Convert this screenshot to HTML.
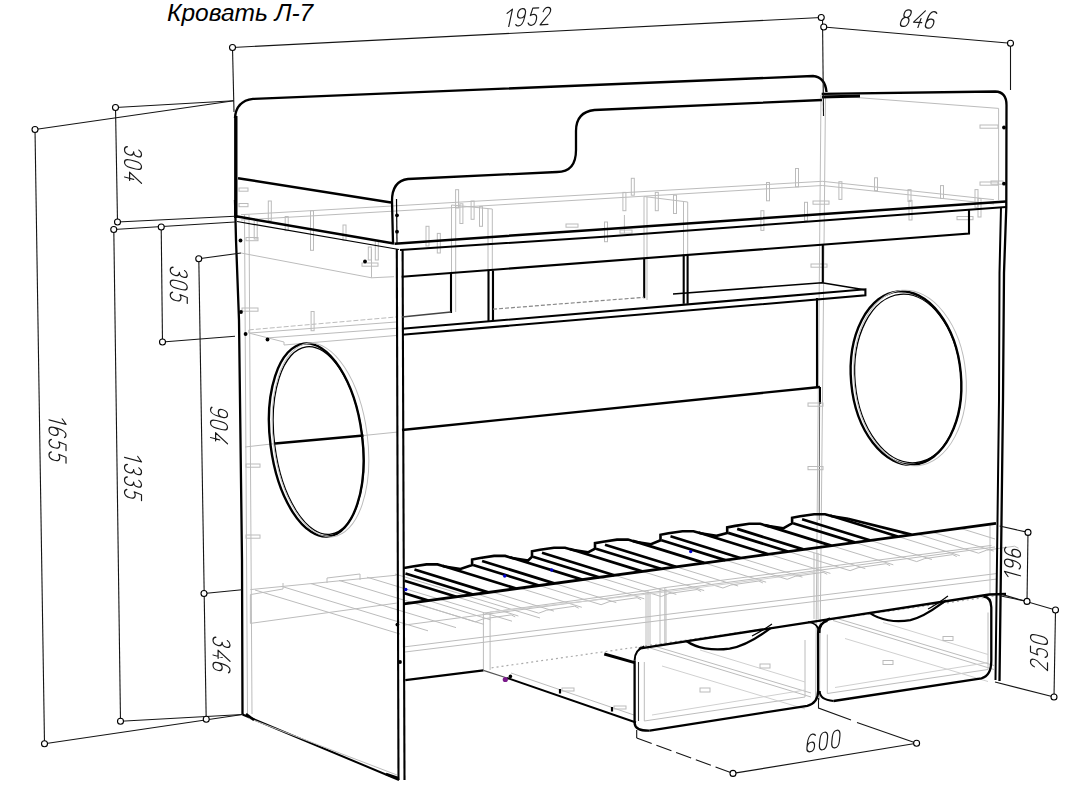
<!DOCTYPE html>
<html><head><meta charset="utf-8"><style>
html,body{margin:0;padding:0;background:#fff;width:1065px;height:800px;overflow:hidden}
svg{display:block}
text{font-family:"Liberation Sans",sans-serif}
</style></head><body>
<svg width="1065" height="800" viewBox="0 0 1065 800">
<path d="M241,214.7 L420,204.4 L822.3,181.3 L994,199.7" stroke="#bcbcbc" stroke-width="1" fill="none" />
<path d="M241,220 L420,209.6 L822.3,185.5 L994,204" stroke="#bcbcbc" stroke-width="1" fill="none" />
<path d="M824,95 L998.6,108.4 L998.6,200" stroke="#bcbcbc" stroke-width="1" fill="none" />
<path d="M821,95 L815.5,700" stroke="#bcbcbc" stroke-width="1" fill="none" />
<path d="M825.5,95 L819.5,700" stroke="#bcbcbc" stroke-width="1" fill="none" />
<path d="M820,387 L820,404" stroke="#000" stroke-width="2" fill="none" />
<path d="M819.6,404 L819.2,520" stroke="#666" stroke-width="1" fill="none" />
<path d="M244.5,215 L247.5,714" stroke="#bcbcbc" stroke-width="1" fill="none" />
<path d="M249,215 L252,714" stroke="#bcbcbc" stroke-width="1" fill="none" />
<path d="M241,253 L371.5,277.8 L394,276.7" stroke="#bcbcbc" stroke-width="1" fill="none" />
<path d="M371.5,249 L371.5,277.8" stroke="#bcbcbc" stroke-width="1" fill="none" />
<path d="M245,447 L275,443.6" stroke="#bcbcbc" stroke-width="1" fill="none" />
<path d="M363.5,435.5 L398,432" stroke="#bcbcbc" stroke-width="1" fill="none" />
<path d="M644,196.5 L644,258" stroke="#bcbcbc" stroke-width="1" fill="none" />
<path d="M647,196.5 L647,300" stroke="#bcbcbc" stroke-width="1" fill="none" />
<path d="M644,196.5 L687.7,202 L687.7,254" stroke="#bcbcbc" stroke-width="1" fill="none" />
<path d="M683.5,201.5 L683.5,254" stroke="#bcbcbc" stroke-width="1" fill="none" />
<path d="M248.8,329.9 L396,317" stroke="#bcbcbc" stroke-width="1" fill="none" stroke-dasharray="5 2"/>
<path d="M248.8,333.1 L396,322" stroke="#bcbcbc" stroke-width="1" fill="none" />
<path d="M268,337.9 L396,328.3" stroke="#bcbcbc" stroke-width="1" fill="none" />
<path d="M284,345 L396,335.5" stroke="#bcbcbc" stroke-width="1" fill="none" />
<path d="M248.8,330 L248.8,333 L284,342 L284,345" stroke="#bcbcbc" stroke-width="1" fill="none" />
<rect x="311.1" y="311.5" width="3" height="19.2" stroke="#bbb" stroke-width="1" fill="none"/>
<rect x="268.3" y="201" width="3" height="19.69999999999999" stroke="#bbb" stroke-width="1" fill="none"/>
<rect x="285.2" y="216.5" width="3" height="14.099999999999994" stroke="#bbb" stroke-width="1" fill="none"/>
<rect x="254.2" y="219" width="3" height="20" stroke="#bbb" stroke-width="1" fill="none"/>
<rect x="310.5" y="210.8" width="3" height="39.5" stroke="#bbb" stroke-width="1" fill="none"/>
<rect x="343.0" y="225" width="3" height="15.400000000000006" stroke="#bbb" stroke-width="1" fill="none"/>
<rect x="375.3" y="240.4" width="3" height="19.599999999999994" stroke="#bbb" stroke-width="1" fill="none"/>
<rect x="368.3" y="247" width="3" height="13" stroke="#bbb" stroke-width="1" fill="none"/>
<rect x="426.0" y="226.3" width="3" height="19.69999999999999" stroke="#bbb" stroke-width="1" fill="none"/>
<rect x="437.3" y="233.4" width="3" height="19.599999999999994" stroke="#bbb" stroke-width="1" fill="none"/>
<rect x="455.6" y="189.7" width="3" height="18.30000000000001" stroke="#bbb" stroke-width="1" fill="none"/>
<rect x="459.9" y="203.8" width="3" height="19.69999999999999" stroke="#bbb" stroke-width="1" fill="none"/>
<rect x="471.1" y="201" width="3" height="18.30000000000001" stroke="#bbb" stroke-width="1" fill="none"/>
<rect x="479.5" y="206.6" width="3" height="19.700000000000017" stroke="#bbb" stroke-width="1" fill="none"/>
<rect x="631.3" y="178.3" width="3" height="16.899999999999977" stroke="#bbb" stroke-width="1" fill="none"/>
<rect x="622.9" y="192.4" width="3" height="18.299999999999983" stroke="#bbb" stroke-width="1" fill="none"/>
<rect x="604.5" y="222" width="3" height="19.69999999999999" stroke="#bbb" stroke-width="1" fill="none"/>
<rect x="655.3" y="192.4" width="3" height="18.299999999999983" stroke="#bbb" stroke-width="1" fill="none"/>
<rect x="673.5" y="195.2" width="3" height="18.30000000000001" stroke="#bbb" stroke-width="1" fill="none"/>
<rect x="766.5" y="182.5" width="3" height="18.30000000000001" stroke="#bbb" stroke-width="1" fill="none"/>
<rect x="795.5" y="168.5" width="3" height="18.30000000000001" stroke="#bbb" stroke-width="1" fill="none"/>
<rect x="760.9" y="210.7" width="3" height="19.700000000000017" stroke="#bbb" stroke-width="1" fill="none"/>
<rect x="804.5" y="202.3" width="3" height="18.299999999999983" stroke="#bbb" stroke-width="1" fill="none"/>
<rect x="874.5" y="177.8" width="3" height="12.799999999999983" stroke="#bbb" stroke-width="1" fill="none"/>
<rect x="838.9" y="181.7" width="3" height="17.700000000000017" stroke="#bbb" stroke-width="1" fill="none"/>
<rect x="908.0" y="189.6" width="3" height="11.800000000000011" stroke="#bbb" stroke-width="1" fill="none"/>
<rect x="909.0" y="200.4" width="3" height="19.599999999999994" stroke="#bbb" stroke-width="1" fill="none"/>
<rect x="940.5" y="185.6" width="3" height="12.900000000000006" stroke="#bbb" stroke-width="1" fill="none"/>
<rect x="975.0" y="189.6" width="3" height="17.700000000000017" stroke="#bbb" stroke-width="1" fill="none"/>
<rect x="978.0" y="198.5" width="3" height="18.5" stroke="#bbb" stroke-width="1" fill="none"/>
<path d="M624.4,215 L624.4,233.2" stroke="#bcbcbc" stroke-width="1" fill="none" />
<path d="M451.5,205 L451.5,272" stroke="#bcbcbc" stroke-width="1" fill="none" />
<path d="M455.7,205 L455.7,312" stroke="#bcbcbc" stroke-width="1" fill="none" />
<path d="M451.5,205 L492.3,209" stroke="#bcbcbc" stroke-width="1" fill="none" />
<path d="M488,209 L488,270" stroke="#bcbcbc" stroke-width="1" fill="none" />
<path d="M492.3,209 L492.3,321" stroke="#bcbcbc" stroke-width="1" fill="none" />
<rect x="239" y="188" width="9" height="3.2" stroke="#bbb" stroke-width="1" fill="none"/>
<rect x="239" y="203.5" width="9" height="3.2" stroke="#bbb" stroke-width="1" fill="none"/>
<rect x="246" y="237.5" width="12" height="3.2" stroke="#bbb" stroke-width="1" fill="none"/>
<rect x="362" y="263" width="16" height="3.2" stroke="#bbb" stroke-width="1" fill="none"/>
<rect x="242" y="308" width="16" height="3.2" stroke="#bbb" stroke-width="1" fill="none"/>
<rect x="246" y="464" width="14" height="3.2" stroke="#bbb" stroke-width="1" fill="none"/>
<rect x="246" y="535" width="14" height="3.2" stroke="#bbb" stroke-width="1" fill="none"/>
<rect x="980" y="125" width="18" height="3.2" stroke="#bbb" stroke-width="1" fill="none"/>
<rect x="980" y="182" width="18" height="3.2" stroke="#bbb" stroke-width="1" fill="none"/>
<rect x="813" y="201" width="16" height="3.2" stroke="#bbb" stroke-width="1" fill="none"/>
<rect x="957" y="216.5" width="16" height="3.2" stroke="#bbb" stroke-width="1" fill="none"/>
<rect x="991" y="181" width="12" height="3.2" stroke="#bbb" stroke-width="1" fill="none"/>
<rect x="811" y="264" width="16" height="3.2" stroke="#bbb" stroke-width="1" fill="none"/>
<rect x="808" y="403" width="15" height="3.2" stroke="#bbb" stroke-width="1" fill="none"/>
<rect x="808" y="466.5" width="15" height="3.2" stroke="#bbb" stroke-width="1" fill="none"/>
<rect x="620" y="230" width="12" height="3.2" stroke="#bbb" stroke-width="1" fill="none"/>
<rect x="566" y="224" width="12" height="3.2" stroke="#bbb" stroke-width="1" fill="none"/>
<path d="M250.4,589.6 L396.6,575.2" stroke="#bcbcbc" stroke-width="1" fill="none" />
<path d="M250.4,594.6 L250.4,623.4 L396.6,603.1" stroke="#bcbcbc" stroke-width="1" fill="none" />
<path d="M250.4,594.6 L283,589 L283,583" stroke="#bcbcbc" stroke-width="1" fill="none" />
<path d="M327,583 L327,578 L360,574 L360,580" stroke="#bcbcbc" stroke-width="1" fill="none" />
<path d="M255,590 L400,634" stroke="#bcbcbc" stroke-width="1" fill="none" />
<path d="M283,586.8 L428,630.8" stroke="#bcbcbc" stroke-width="1" fill="none" />
<path d="M311,583.6 L456,627.6" stroke="#bcbcbc" stroke-width="1" fill="none" />
<path d="M339,580.4 L484,624.4" stroke="#bcbcbc" stroke-width="1" fill="none" />
<path d="M367,577.2 L512,621.2" stroke="#bcbcbc" stroke-width="1" fill="none" />
<path d="M395,574 L540,618" stroke="#bcbcbc" stroke-width="1" fill="none" />
<path d="M413.2,602.6 L475.2,621.9" stroke="#bcbcbc" stroke-width="1" fill="none" />
<path d="M428.4,600.6 L490.4,619.8" stroke="#bcbcbc" stroke-width="1" fill="none" />
<path d="M456.4,596.8 L518.4,616" stroke="#bcbcbc" stroke-width="1" fill="none" />
<path d="M475.2,621.9 L483.2,618.9 L511.2,614.9 L515.2,616.9" stroke="#bcbcbc" stroke-width="1" fill="none" />
<path d="M476.7,594 L538.7,613.2" stroke="#bcbcbc" stroke-width="1" fill="none" />
<path d="M491.9,591.9 L553.9,611.1" stroke="#bcbcbc" stroke-width="1" fill="none" />
<path d="M519.8,588.1 L581.8,607.3" stroke="#bcbcbc" stroke-width="1" fill="none" />
<path d="M538.7,613.2 L546.7,610.2 L574.7,606.2 L578.7,608.2" stroke="#bcbcbc" stroke-width="1" fill="none" />
<path d="M539.1,585.5 L601.1,604.7" stroke="#bcbcbc" stroke-width="1" fill="none" />
<path d="M554.3,583.4 L616.3,602.6" stroke="#bcbcbc" stroke-width="1" fill="none" />
<path d="M582.3,579.6 L644.3,598.8" stroke="#bcbcbc" stroke-width="1" fill="none" />
<path d="M601.1,604.7 L609.1,601.7 L637.1,597.7 L641.1,599.7" stroke="#bcbcbc" stroke-width="1" fill="none" />
<path d="M599.1,577.3 L661.1,596.5" stroke="#bcbcbc" stroke-width="1" fill="none" />
<path d="M614.3,575.2 L676.3,594.4" stroke="#bcbcbc" stroke-width="1" fill="none" />
<path d="M642.2,571.4 L704.2,590.6" stroke="#bcbcbc" stroke-width="1" fill="none" />
<path d="M661.1,596.5 L669.1,593.5 L697.1,589.5 L701.1,591.5" stroke="#bcbcbc" stroke-width="1" fill="none" />
<path d="M660.9,568.8 L722.9,588" stroke="#bcbcbc" stroke-width="1" fill="none" />
<path d="M676.1,566.8 L738.1,586" stroke="#bcbcbc" stroke-width="1" fill="none" />
<path d="M704.1,562.9 L766.1,582.2" stroke="#bcbcbc" stroke-width="1" fill="none" />
<path d="M722.9,588 L730.9,585 L758.9,581 L762.9,583" stroke="#bcbcbc" stroke-width="1" fill="none" />
<path d="M725.2,560.1 L787.2,579.3" stroke="#bcbcbc" stroke-width="1" fill="none" />
<path d="M740.4,558 L802.4,577.2" stroke="#bcbcbc" stroke-width="1" fill="none" />
<path d="M768.4,554.2 L830.4,573.4" stroke="#bcbcbc" stroke-width="1" fill="none" />
<path d="M787.2,579.3 L795.2,576.3 L823.2,572.3 L827.2,574.3" stroke="#bcbcbc" stroke-width="1" fill="none" />
<path d="M788.1,551.5 L850.1,570.7" stroke="#bcbcbc" stroke-width="1" fill="none" />
<path d="M803.3,549.4 L865.3,568.6" stroke="#bcbcbc" stroke-width="1" fill="none" />
<path d="M831.3,545.6 L893.3,564.8" stroke="#bcbcbc" stroke-width="1" fill="none" />
<path d="M850.1,570.7 L858.1,567.7 L886.1,563.7 L890.1,565.7" stroke="#bcbcbc" stroke-width="1" fill="none" />
<path d="M854.7,542.4 L916.7,561.6" stroke="#bcbcbc" stroke-width="1" fill="none" />
<path d="M869.9,540.3 L931.9,559.5" stroke="#bcbcbc" stroke-width="1" fill="none" />
<path d="M897.8,536.5 L959.8,555.7" stroke="#bcbcbc" stroke-width="1" fill="none" />
<path d="M916.7,561.6 L924.7,558.6 L952.7,554.6 L956.7,556.6" stroke="#bcbcbc" stroke-width="1" fill="none" />
<path d="M916.5,533.9 L978.5,553.2" stroke="#bcbcbc" stroke-width="1" fill="none" />
<path d="M931.7,531.9 L993.7,551.1" stroke="#bcbcbc" stroke-width="1" fill="none" />
<path d="M959.7,528.1 L995,539" stroke="#bcbcbc" stroke-width="1" fill="none" />
<path d="M978.5,553.2 L986.5,550.2 L1014.5,546.2 L1018.5,548.2" stroke="#bcbcbc" stroke-width="1" fill="none" />
<path d="M405,625 L995,547" stroke="#bcbcbc" stroke-width="1" fill="none" />
<path d="M405,646.8 L997,573.5" stroke="#bcbcbc" stroke-width="1" fill="none" />
<path d="M405,652 L997,579" stroke="#bcbcbc" stroke-width="1" fill="none" />
<path d="M483.4,612.5 L483.4,670" stroke="#bcbcbc" stroke-width="1" fill="none" />
<path d="M490.1,612.5 L490.1,670" stroke="#bcbcbc" stroke-width="1" fill="none" />
<path d="M646,592.6 L646,645" stroke="#bcbcbc" stroke-width="1" fill="none" />
<path d="M650,592.6 L650,645" stroke="#bcbcbc" stroke-width="1" fill="none" />
<path d="M660,588.7 L660,645" stroke="#bcbcbc" stroke-width="1" fill="none" />
<path d="M666,588.7 L666,645" stroke="#bcbcbc" stroke-width="1" fill="none" />
<path d="M814,553 L814,619" stroke="#bcbcbc" stroke-width="1" fill="none" />
<path d="M818,553 L818,619" stroke="#bcbcbc" stroke-width="1" fill="none" />
<path d="M990,525 L990,595" stroke="#bcbcbc" stroke-width="1" fill="none" />
<path d="M644.3,662 L644.3,721 L805,697 L805,640" stroke="#bcbcbc" stroke-width="1" fill="none" />
<path d="M650,648 L811,697" stroke="#bcbcbc" stroke-width="1" fill="none" />
<path d="M654,646 L811,693" stroke="#bcbcbc" stroke-width="1" fill="none" />
<path d="M662,666 L805,709" stroke="#d0d0d0" stroke-width="1" fill="none" />
<path d="M700,650 L805,682" stroke="#d0d0d0" stroke-width="1" fill="none" />
<path d="M652,715 L805,690" stroke="#d0d0d0" stroke-width="1" fill="none" />
<rect x="700" y="688" width="10" height="4" stroke="#bbb" stroke-width="1" fill="none"/>
<rect x="760" y="664" width="10" height="4" stroke="#bbb" stroke-width="1" fill="none"/>
<path d="M827.3,634.5 L827.3,693.5 L988,669.5 L988,612.5" stroke="#bcbcbc" stroke-width="1" fill="none" />
<path d="M833,620.5 L994,669.5" stroke="#bcbcbc" stroke-width="1" fill="none" />
<path d="M837,618.5 L994,665.5" stroke="#bcbcbc" stroke-width="1" fill="none" />
<path d="M845,638.5 L988,681.5" stroke="#d0d0d0" stroke-width="1" fill="none" />
<path d="M883,622.5 L988,654.5" stroke="#d0d0d0" stroke-width="1" fill="none" />
<path d="M835,687.5 L988,662.5" stroke="#d0d0d0" stroke-width="1" fill="none" />
<rect x="883" y="660.5" width="10" height="4" stroke="#bbb" stroke-width="1" fill="none"/>
<rect x="943" y="636.5" width="10" height="4" stroke="#bbb" stroke-width="1" fill="none"/>
<path d="M484.5,613 L648,590.4 L664.8,587.6 L817,568 L991.5,545.4" stroke="#bcbcbc" stroke-width="1" fill="none" />
<path d="M490,612 L648,594 L664.8,592 L817,572" stroke="#d0d0d0" stroke-width="1" fill="none" />
<path d="M648,590.4 L648,650" stroke="#bcbcbc" stroke-width="1" fill="none" />
<path d="M664.8,587.6 L664.8,646" stroke="#bcbcbc" stroke-width="1" fill="none" />
<path d="M235,118 Q236,101 253,98.9 L813,76 Q825,77 826.5,92" stroke="#000" stroke-width="2.4" fill="none" />
<path d="M235.8,116 L235.8,218" stroke="#000" stroke-width="3.4" fill="none" />
<path d="M822,100 L594.5,110 Q576,112 576,131 L576,150 Q576,172 557,172 L408,179 Q392,181 392,201 L393,243" stroke="#000" stroke-width="2.3" fill="none" />
<path d="M396.5,199 L397,243" stroke="#000" stroke-width="1.2" fill="none" />
<path d="M238,178.2 L391,202.4" stroke="#000" stroke-width="2.5" fill="none" />
<path d="M236,216.3 L394,243.5" stroke="#000" stroke-width="2.5" fill="none" />
<path d="M237,221.5 L399,249.5" stroke="#000" stroke-width="1.2" fill="none" />
<path d="M235,200 L236,240 L239,320 L242,560 L242.5,714.5" stroke="#000" stroke-width="2.3" fill="none" />
<path d="M242.5,714.5 L399,780" stroke="#000" stroke-width="2" fill="none" />
<path d="M248,718 L397,775" stroke="#bcbcbc" stroke-width="1" fill="none" />
<path d="M246,714 L254,720" stroke="#000" stroke-width="2.5" fill="none" />
<path d="M386,774 L398,778" stroke="#000" stroke-width="2.5" fill="none" />
<path d="M396.8,249 L398.5,780" stroke="#000" stroke-width="2.1" fill="none" />
<path d="M402.6,249 L404.5,780" stroke="#000" stroke-width="2.1" fill="none" />
<path d="M394.5,243.7 L600,229.5 L1006,201.5" stroke="#000" stroke-width="2.5" fill="none" />
<path d="M400,250 L600,237 L1006,207" stroke="#000" stroke-width="2" fill="none" />
<path d="M401.7,276.7 L969,233.5 L969,210" stroke="#000" stroke-width="2.1" fill="none" />
<path d="M451,272.6 L451,313" stroke="#000" stroke-width="2.1" fill="none" />
<path d="M488.5,270.5 L488.5,321" stroke="#000" stroke-width="2.1" fill="none" />
<path d="M493,270.5 L493,321" stroke="#000" stroke-width="2.1" fill="none" />
<path d="M644.2,258.7 L644.2,298.2" stroke="#000" stroke-width="2.1" fill="none" />
<path d="M683.7,254.5 L683.7,303.8" stroke="#000" stroke-width="2.1" fill="none" />
<path d="M687.6,254.5 L687.6,303.8" stroke="#000" stroke-width="2.1" fill="none" />
<path d="M822.8,244.6 L822.8,282.7" stroke="#000" stroke-width="2.1" fill="none" />
<path d="M402,328.7 L865.4,289.3 L865.4,295.4 L402,334.8" stroke="#000" stroke-width="2.1" fill="none" />
<path d="M673,294 L822,282.7 L864.5,289.7" stroke="#000" stroke-width="1.6" fill="none" />
<path d="M401.8,317 L451,312" stroke="#444" stroke-width="1.4" fill="none" />
<path d="M493,309.2 L644,297.3" stroke="#888" stroke-width="1.2" fill="none" stroke-dasharray="4 2"/>
<path d="M275,443.6 L363.5,435.5" stroke="#000" stroke-width="2.5" fill="none" />
<path d="M402,430 L820,387" stroke="#000" stroke-width="2.3" fill="none" />
<path d="M817,298 L817,387" stroke="#000" stroke-width="2.1" fill="none" />
<path d="M821.7,93.8 L995.2,91.5 Q1006.5,92 1006.5,105 L1006.3,207 L1004,273 L1003,400 L999.5,681" stroke="#000" stroke-width="2.3" fill="none" />
<path d="M1001,207 L999.5,273 L999,400 L995.5,680" stroke="#000" stroke-width="2" fill="none" />
<path d="M822,97 L860,96" stroke="#000" stroke-width="3" fill="none" />
<ellipse cx="316.25" cy="440" rx="46" ry="97.2" transform="rotate(-7.4 316.25 440)" stroke="#000" stroke-width="2.4" fill="none"/>
<ellipse cx="318.5" cy="440.5" rx="44" ry="94.5" transform="rotate(-7.4 318.5 440.5)" stroke="#000" stroke-width="1.3" fill="none"/>
<ellipse cx="320.5" cy="440" rx="47" ry="97.5" transform="rotate(-7.4 320.5 440)" stroke="#bcbcbc" stroke-width="1" fill="none"/>
<ellipse cx="906" cy="378" rx="55" ry="87" transform="rotate(-5.2 906 378)" stroke="#000" stroke-width="2.4" fill="none"/>
<ellipse cx="908" cy="378.5" rx="53" ry="84.5" transform="rotate(-5.2 908 378.5)" stroke="#000" stroke-width="1.3" fill="none"/>
<ellipse cx="910" cy="378" rx="56" ry="88" transform="rotate(-5.2 910 378)" stroke="#bcbcbc" stroke-width="1" fill="none"/>
<path d="M404,603.9 L996,523.3" stroke="#000" stroke-width="2.8" fill="none" />
<path d="M405.3,680.1 L483.4,670.4" stroke="#000" stroke-width="2.3" fill="none" />
<path d="M483.4,670.4 L507,678" stroke="#555" stroke-width="1.2" fill="none" />
<path d="M507,678 L636,722.5" stroke="#000" stroke-width="1.9" fill="none" />
<path d="M511,673 L634,715" stroke="#bcbcbc" stroke-width="1" fill="none" />
<path d="M560,689 L560,693.5" stroke="#000" stroke-width="2.2" fill="none" />
<path d="M612,707 L612,711.5" stroke="#000" stroke-width="2.2" fill="none" />
<rect x="562" y="688" width="12" height="3" stroke="#bbb" stroke-width="1" fill="none"/>
<rect x="614" y="706" width="12" height="3" stroke="#bbb" stroke-width="1" fill="none"/>
<path d="M491.6,667.8 L995,596" stroke="#aaa" stroke-width="1.2" fill="none" stroke-dasharray="2 3"/>
<path d="M604.3,654 L634.6,662.6" stroke="#000" stroke-width="3" fill="none" />
<path d="M638.9,648.6 L989.3,594.5 L1006,594" stroke="#000" stroke-width="2.3" fill="none" />
<circle cx="510.4" cy="676.4" r="1.8" fill="#000"/>
<circle cx="240.5" cy="240.5" r="1.9" fill="#000"/>
<circle cx="365" cy="261.5" r="1.9" fill="#000"/>
<circle cx="241" cy="312" r="1.9" fill="#000"/>
<circle cx="397" cy="215.3" r="1.9" fill="#000"/>
<circle cx="397" cy="231.7" r="1.9" fill="#000"/>
<circle cx="1004" cy="127.5" r="1.9" fill="#000"/>
<circle cx="1004" cy="183.7" r="1.9" fill="#000"/>
<circle cx="245.6" cy="334" r="1.9" fill="#000"/>
<circle cx="267.5" cy="339.5" r="1.9" fill="#000"/>
<circle cx="397.4" cy="624.6" r="1.9" fill="#000"/>
<circle cx="400" cy="662" r="1.9" fill="#000"/>
<path d="M405.5,573.5 L473.1,594.5" stroke="#000" stroke-width="2.7" fill="none" />
<path d="M414.5,569.5 L488.3,592.4" stroke="#000" stroke-width="2.7" fill="none" />
<path d="M442.5,565.7 L516.3,588.6" stroke="#000" stroke-width="2.7" fill="none" />
<path d="M473.1,565 L539.1,585.5" stroke="#000" stroke-width="2.7" fill="none" />
<path d="M482.1,561 L554.3,583.4" stroke="#000" stroke-width="2.7" fill="none" />
<path d="M510.1,557.2 L582.3,579.6" stroke="#000" stroke-width="2.7" fill="none" />
<path d="M533,556.8 L599.1,577.3" stroke="#000" stroke-width="2.7" fill="none" />
<path d="M542,552.8 L614.3,575.2" stroke="#000" stroke-width="2.7" fill="none" />
<path d="M570,549 L642.2,571.4" stroke="#000" stroke-width="2.7" fill="none" />
<path d="M596,548.7 L660.9,568.8" stroke="#000" stroke-width="2.7" fill="none" />
<path d="M605,544.7 L676.1,566.8" stroke="#000" stroke-width="2.7" fill="none" />
<path d="M633,540.9 L704.1,562.9" stroke="#000" stroke-width="2.7" fill="none" />
<path d="M661.5,540.3 L725.2,560.1" stroke="#000" stroke-width="2.7" fill="none" />
<path d="M670.5,536.3 L740.4,558" stroke="#000" stroke-width="2.7" fill="none" />
<path d="M698.5,532.5 L768.4,554.2" stroke="#000" stroke-width="2.7" fill="none" />
<path d="M728.2,532.9 L788.1,551.5" stroke="#000" stroke-width="2.7" fill="none" />
<path d="M737.2,528.9 L803.3,549.4" stroke="#000" stroke-width="2.7" fill="none" />
<path d="M765.2,525.1 L831.3,545.6" stroke="#000" stroke-width="2.7" fill="none" />
<path d="M793.1,523.3 L854.7,542.4" stroke="#000" stroke-width="2.7" fill="none" />
<path d="M802.1,519.3 L869.9,540.3" stroke="#000" stroke-width="2.7" fill="none" />
<path d="M830.1,515.5 L897.8,536.5" stroke="#000" stroke-width="2.7" fill="none" />
<path d="M404,568 L412.5,566.5 L426.5,564.4 L437.5,564.4 L444.5,566.5 L460.5,569 L472.1,565 L472.1,559.5 L480.1,558 L494.1,555.9 L505.1,555.9 L512.1,558 L528.1,560.5 L532,556.8 L532,551.3 L540,549.8 L554,547.7 L565,547.7 L572,549.8 L588,552.3 L595,548.7 L595,543.2 L603,541.7 L617,539.6 L628,539.6 L635,541.7 L651,544.2 L660.5,540.3 L660.5,534.8 L668.5,533.3 L682.5,531.2 L693.5,531.2 L700.5,533.3 L716.5,535.8 L727.2,532.9 L727.2,527.4 L735.2,525.9 L749.2,523.8 L760.2,523.8 L767.2,525.9 L783.2,528.4 L792.1,523.3 L792.1,517.8 L800.1,516.3 L814.1,514.2 L825.1,514.2 L832.1,516.3 L848.1,518.8" stroke="#000" stroke-width="2.6" fill="none" />
<path d="M404.5,593.2 L428.4,600.6" stroke="#000" stroke-width="2.7" fill="none" />
<path d="M404.5,580.7 L456.4,596.8" stroke="#000" stroke-width="2.7" fill="none" />
<path d="M848,518.8 L911.4,534.6" stroke="#000" stroke-width="2.7" fill="none" />
<circle cx="405.8" cy="589.5" r="1.7" fill="#0000d0"/>
<circle cx="504.7" cy="576" r="1.7" fill="#0000d0"/>
<circle cx="551.7" cy="570" r="1.7" fill="#0000d0"/>
<circle cx="690.7" cy="551.6" r="1.7" fill="#0000d0"/>
<circle cx="505.3" cy="679.5" r="2.6" fill="#7a1a8a"/>
<path d="M649.7,730.7 L807.3,705.8 Q818.1,703 818.1,690.7 L818.1,632.4 Q818.1,624 830,618.4" stroke="#000" stroke-width="2.3" fill="none" />
<path d="M634.6,660.5 L634.6,723.1 Q635,731 649.7,730.7" stroke="#000" stroke-width="2.3" fill="none" />
<path d="M638.5,662 L638.5,721" stroke="#333" stroke-width="1.1" fill="none" />
<path d="M634.6,660.5 Q634.6,650 644.3,646.4" stroke="#000" stroke-width="2" fill="none" />
<path d="M686.4,641 C696,648 712,651 729.6,648.6 C745,646 760,636 770.6,628.1" stroke="#000" stroke-width="2.2" fill="none" />
<path d="M752,636 C760,632 765,629 772,624" stroke="#000" stroke-width="1.2" fill="none" />
<path d="M818.1,632.4 Q819.7,624 808,622" stroke="#000" stroke-width="1.6" fill="none" />
<path d="M833.5,701 L981.4,678.3 Q991.3,676 991.3,660.6 L991.3,607.3 Q991,597 983.4,596.5" stroke="#000" stroke-width="2.3" fill="none" />
<path d="M833.5,701 Q819.7,700 819.7,691.1" stroke="#000" stroke-width="2" fill="none" />
<path d="M819.7,633 Q819.7,622 827.6,621.1" stroke="#000" stroke-width="1.6" fill="none" />
<path d="M870,613.2 C880,620 895,623 910.4,620.1 C925,617 938,606 946,600.4" stroke="#000" stroke-width="2.2" fill="none" />
<path d="M928,609 C936,605 941,601 948,596" stroke="#000" stroke-width="1.2" fill="none" />
<path d="M232.5,47.5 L821.2,17.5" stroke="#151515" stroke-width="1.1" fill="none" />
<path d="M232.5,47.5 L234,112" stroke="#151515" stroke-width="1.1" fill="none" />
<path d="M823.8,27 L1010.5,43.2" stroke="#151515" stroke-width="1.1" fill="none" />
<path d="M822.5,17.5 L823.5,116" stroke="#151515" stroke-width="1.1" fill="none" />
<path d="M1010.5,43.2 L1010.5,90" stroke="#151515" stroke-width="1.1" fill="none" />
<path d="M35,129.5 L44.5,743.8" stroke="#151515" stroke-width="1.1" fill="none" />
<path d="M35,129.5 L233.8,100.8" stroke="#151515" stroke-width="1.1" fill="none" />
<path d="M115.5,107.5 L233.8,100.8" stroke="#151515" stroke-width="1.1" fill="none" />
<path d="M115.5,107.5 L117.5,222" stroke="#151515" stroke-width="1.1" fill="none" />
<path d="M117.5,222 L235,216.2" stroke="#151515" stroke-width="1.1" fill="none" />
<path d="M113.8,229.5 L235,222" stroke="#151515" stroke-width="1.1" fill="none" />
<path d="M113.8,229.5 L120.5,721.2" stroke="#151515" stroke-width="1.1" fill="none" />
<path d="M161.2,227 L162.5,342" stroke="#151515" stroke-width="1.1" fill="none" />
<path d="M162.5,342 L235,336.2" stroke="#151515" stroke-width="1.1" fill="none" />
<path d="M198.8,258.8 L241,253" stroke="#151515" stroke-width="1.1" fill="none" />
<path d="M198.8,258.8 L206.2,719.2" stroke="#151515" stroke-width="1.1" fill="none" />
<path d="M204,593.5 L242,589.7" stroke="#151515" stroke-width="1.1" fill="none" />
<path d="M44.5,743.8 L242.5,714.5" stroke="#151515" stroke-width="1.1" fill="none" />
<path d="M120.5,721.2 L242.5,714.5" stroke="#151515" stroke-width="1.1" fill="none" />
<path d="M1028,532.4 L1027,601.4" stroke="#151515" stroke-width="1.1" fill="none" />
<path d="M999.6,526 L1028,532.4" stroke="#151515" stroke-width="1.1" fill="none" />
<path d="M999.6,595.7 L1027,601.4" stroke="#151515" stroke-width="1.1" fill="none" />
<path d="M1055.5,610 L1054,697" stroke="#151515" stroke-width="1.1" fill="none" />
<path d="M1001.7,594.4 L1055.5,610" stroke="#151515" stroke-width="1.1" fill="none" />
<path d="M995,682 L1054,697" stroke="#151515" stroke-width="1.1" fill="none" />
<path d="M733,773.4 L916.6,743.3" stroke="#151515" stroke-width="1.1" fill="none" />
<path d="M636.7,730 L636.7,738" stroke="#151515" stroke-width="1.1" fill="none" />
<path d="M636.7,738 L733,773.4" stroke="#151515" stroke-width="1.1" fill="none" stroke-dasharray="16 5"/>
<path d="M818.5,698 L818.5,708 L851,720" stroke="#151515" stroke-width="1.1" fill="none" />
<path d="M857,722.5 L916.6,743.3" stroke="#151515" stroke-width="1.1" fill="none" />
<circle cx="232.5" cy="47.5" r="3.0" stroke="#000" stroke-width="1.1" fill="#fff"/>
<circle cx="821.25" cy="17.5" r="3.0" stroke="#000" stroke-width="1.1" fill="#fff"/>
<circle cx="823.75" cy="27" r="3.0" stroke="#000" stroke-width="1.1" fill="#fff"/>
<circle cx="1010.5" cy="43.25" r="3.0" stroke="#000" stroke-width="1.1" fill="#fff"/>
<circle cx="35" cy="129.5" r="3.0" stroke="#000" stroke-width="1.1" fill="#fff"/>
<circle cx="115.5" cy="107.5" r="3.0" stroke="#000" stroke-width="1.1" fill="#fff"/>
<circle cx="117.5" cy="222" r="3.0" stroke="#000" stroke-width="1.1" fill="#fff"/>
<circle cx="113.75" cy="229.5" r="3.0" stroke="#000" stroke-width="1.1" fill="#fff"/>
<circle cx="161.25" cy="227" r="3.0" stroke="#000" stroke-width="1.1" fill="#fff"/>
<circle cx="162.5" cy="342" r="3.0" stroke="#000" stroke-width="1.1" fill="#fff"/>
<circle cx="198.75" cy="258.75" r="3.0" stroke="#000" stroke-width="1.1" fill="#fff"/>
<circle cx="204" cy="593.5" r="3.0" stroke="#000" stroke-width="1.1" fill="#fff"/>
<circle cx="44.5" cy="743.75" r="3.0" stroke="#000" stroke-width="1.1" fill="#fff"/>
<circle cx="120.5" cy="721.25" r="3.0" stroke="#000" stroke-width="1.1" fill="#fff"/>
<circle cx="206.25" cy="719.25" r="3.0" stroke="#000" stroke-width="1.1" fill="#fff"/>
<circle cx="1028" cy="532.4" r="3.0" stroke="#000" stroke-width="1.1" fill="#fff"/>
<circle cx="1027" cy="601.4" r="3.0" stroke="#000" stroke-width="1.1" fill="#fff"/>
<circle cx="1055.5" cy="610" r="3.0" stroke="#000" stroke-width="1.1" fill="#fff"/>
<circle cx="1054" cy="697" r="3.0" stroke="#000" stroke-width="1.1" fill="#fff"/>
<circle cx="733" cy="773.4" r="3.0" stroke="#000" stroke-width="1.1" fill="#fff"/>
<circle cx="916.6" cy="743.3" r="3.0" stroke="#000" stroke-width="1.1" fill="#fff"/>
<text x="167" y="21" font-size="24.5" font-style="italic" fill="#000">Кровать Л-7</text>
<g transform="translate(527,17) rotate(-3) scale(1.700) skewX(-15)" stroke="#1a1a1a" stroke-width="0.706" fill="none" stroke-linecap="round" stroke-linejoin="round"><path transform="translate(-13.27,-5)" d="M1,2.2 L3.6,0 L3.6,10"/><path transform="translate(-5.92,-5)" d="M0.2,9.1 C0.7,9.7 1.4,10 2.1,10 C3.7,10 4.5,8 4.5,5 L4.5,2.8 C4.5,1.1 3.6,0 2.25,0 C0.9,0 0,1.1 0,2.7 C0,4.3 0.9,5.4 2.25,5.4 C3.6,5.4 4.5,4.3 4.5,2.7"/><path transform="translate(1.43,-5)" d="M4.4,0 L0.9,0 L0.4,4.3 C0.9,3.9 1.6,3.7 2.3,3.7 C3.7,3.7 4.5,4.9 4.5,6.8 C4.5,8.8 3.6,10 2.2,10 C1.2,10 0.4,9.4 0,8.6"/><path transform="translate(8.77,-5)" d="M0.2,2.3 C0.5,0.8 1.3,0 2.4,0 C3.7,0 4.5,1 4.5,2.4 C4.5,3.7 3.8,4.7 2.8,5.7 L0,10 L4.6,10"/></g>
<g transform="translate(918.5,19) rotate(4) scale(1.700) skewX(-15)" stroke="#1a1a1a" stroke-width="0.706" fill="none" stroke-linecap="round" stroke-linejoin="round"><path transform="translate(-9.60,-5)" d="M2.25,4.6 C1,4.6 0.3,3.7 0.3,2.3 C0.3,0.9 1,0 2.25,0 C3.5,0 4.2,0.9 4.2,2.3 C4.2,3.7 3.5,4.6 2.25,4.6 C0.9,4.6 0,5.7 0,7.3 C0,8.9 0.9,10 2.25,10 C3.6,10 4.5,8.9 4.5,7.3 C4.5,5.7 3.6,4.6 2.25,4.6 Z"/><path transform="translate(-2.25,-5)" d="M4.6,0 L0,7 L4.8,7 M3.6,4.6 L3.6,10"/><path transform="translate(5.10,-5)" d="M4.3,0.9 C3.8,0.3 3.1,0 2.4,0 C0.8,0 0,2 0,5 L0,7.2 C0,8.9 0.9,10 2.25,10 C3.6,10 4.5,8.9 4.5,7.3 C4.5,5.7 3.6,4.6 2.25,4.6 C0.9,4.6 0,5.7 0,7.3"/></g>
<g transform="translate(133,164.5) rotate(90) scale(1.700) skewX(-15)" stroke="#1a1a1a" stroke-width="0.706" fill="none" stroke-linecap="round" stroke-linejoin="round"><path transform="translate(-9.60,-5)" d="M0.2,1.6 C0.6,0.6 1.3,0 2.3,0 C3.5,0 4.3,0.9 4.3,2.3 C4.3,3.7 3.4,4.6 2,4.6 C3.6,4.6 4.5,5.6 4.5,7.2 C4.5,8.9 3.6,10 2.2,10 C1.1,10 0.3,9.3 0,8.3"/><path transform="translate(-2.25,-5)" d="M2.25,0 C0.6,0 0,1.5 0,3.5 L0,6.5 C0,8.5 0.6,10 2.25,10 C3.9,10 4.5,8.5 4.5,6.5 L4.5,3.5 C4.5,1.5 3.9,0 2.25,0 Z"/><path transform="translate(5.10,-5)" d="M4.6,0 L0,7 L4.8,7 M3.6,4.6 L3.6,10"/></g>
<g transform="translate(178.75,285) rotate(90) scale(1.700) skewX(-15)" stroke="#1a1a1a" stroke-width="0.706" fill="none" stroke-linecap="round" stroke-linejoin="round"><path transform="translate(-9.60,-5)" d="M0.2,1.6 C0.6,0.6 1.3,0 2.3,0 C3.5,0 4.3,0.9 4.3,2.3 C4.3,3.7 3.4,4.6 2,4.6 C3.6,4.6 4.5,5.6 4.5,7.2 C4.5,8.9 3.6,10 2.2,10 C1.1,10 0.3,9.3 0,8.3"/><path transform="translate(-2.25,-5)" d="M2.25,0 C0.6,0 0,1.5 0,3.5 L0,6.5 C0,8.5 0.6,10 2.25,10 C3.9,10 4.5,8.5 4.5,6.5 L4.5,3.5 C4.5,1.5 3.9,0 2.25,0 Z"/><path transform="translate(5.10,-5)" d="M4.4,0 L0.9,0 L0.4,4.3 C0.9,3.9 1.6,3.7 2.3,3.7 C3.7,3.7 4.5,4.9 4.5,6.8 C4.5,8.8 3.6,10 2.2,10 C1.2,10 0.4,9.4 0,8.6"/></g>
<g transform="translate(57.5,438.5) rotate(90) scale(1.700) skewX(-15)" stroke="#1a1a1a" stroke-width="0.706" fill="none" stroke-linecap="round" stroke-linejoin="round"><path transform="translate(-13.27,-5)" d="M1,2.2 L3.6,0 L3.6,10"/><path transform="translate(-5.92,-5)" d="M4.3,0.9 C3.8,0.3 3.1,0 2.4,0 C0.8,0 0,2 0,5 L0,7.2 C0,8.9 0.9,10 2.25,10 C3.6,10 4.5,8.9 4.5,7.3 C4.5,5.7 3.6,4.6 2.25,4.6 C0.9,4.6 0,5.7 0,7.3"/><path transform="translate(1.43,-5)" d="M4.4,0 L0.9,0 L0.4,4.3 C0.9,3.9 1.6,3.7 2.3,3.7 C3.7,3.7 4.5,4.9 4.5,6.8 C4.5,8.8 3.6,10 2.2,10 C1.2,10 0.4,9.4 0,8.6"/><path transform="translate(8.77,-5)" d="M4.4,0 L0.9,0 L0.4,4.3 C0.9,3.9 1.6,3.7 2.3,3.7 C3.7,3.7 4.5,4.9 4.5,6.8 C4.5,8.8 3.6,10 2.2,10 C1.2,10 0.4,9.4 0,8.6"/></g>
<g transform="translate(133,476) rotate(90) scale(1.700) skewX(-15)" stroke="#1a1a1a" stroke-width="0.706" fill="none" stroke-linecap="round" stroke-linejoin="round"><path transform="translate(-13.27,-5)" d="M1,2.2 L3.6,0 L3.6,10"/><path transform="translate(-5.92,-5)" d="M0.2,1.6 C0.6,0.6 1.3,0 2.3,0 C3.5,0 4.3,0.9 4.3,2.3 C4.3,3.7 3.4,4.6 2,4.6 C3.6,4.6 4.5,5.6 4.5,7.2 C4.5,8.9 3.6,10 2.2,10 C1.1,10 0.3,9.3 0,8.3"/><path transform="translate(1.43,-5)" d="M0.2,1.6 C0.6,0.6 1.3,0 2.3,0 C3.5,0 4.3,0.9 4.3,2.3 C4.3,3.7 3.4,4.6 2,4.6 C3.6,4.6 4.5,5.6 4.5,7.2 C4.5,8.9 3.6,10 2.2,10 C1.1,10 0.3,9.3 0,8.3"/><path transform="translate(8.77,-5)" d="M4.4,0 L0.9,0 L0.4,4.3 C0.9,3.9 1.6,3.7 2.3,3.7 C3.7,3.7 4.5,4.9 4.5,6.8 C4.5,8.8 3.6,10 2.2,10 C1.2,10 0.4,9.4 0,8.6"/></g>
<g transform="translate(219,425) rotate(90) scale(1.700) skewX(-15)" stroke="#1a1a1a" stroke-width="0.706" fill="none" stroke-linecap="round" stroke-linejoin="round"><path transform="translate(-9.60,-5)" d="M0.2,9.1 C0.7,9.7 1.4,10 2.1,10 C3.7,10 4.5,8 4.5,5 L4.5,2.8 C4.5,1.1 3.6,0 2.25,0 C0.9,0 0,1.1 0,2.7 C0,4.3 0.9,5.4 2.25,5.4 C3.6,5.4 4.5,4.3 4.5,2.7"/><path transform="translate(-2.25,-5)" d="M2.25,0 C0.6,0 0,1.5 0,3.5 L0,6.5 C0,8.5 0.6,10 2.25,10 C3.9,10 4.5,8.5 4.5,6.5 L4.5,3.5 C4.5,1.5 3.9,0 2.25,0 Z"/><path transform="translate(5.10,-5)" d="M4.6,0 L0,7 L4.8,7 M3.6,4.6 L3.6,10"/></g>
<g transform="translate(221.5,655) rotate(90) scale(1.700) skewX(-15)" stroke="#1a1a1a" stroke-width="0.706" fill="none" stroke-linecap="round" stroke-linejoin="round"><path transform="translate(-9.60,-5)" d="M0.2,1.6 C0.6,0.6 1.3,0 2.3,0 C3.5,0 4.3,0.9 4.3,2.3 C4.3,3.7 3.4,4.6 2,4.6 C3.6,4.6 4.5,5.6 4.5,7.2 C4.5,8.9 3.6,10 2.2,10 C1.1,10 0.3,9.3 0,8.3"/><path transform="translate(-2.25,-5)" d="M4.6,0 L0,7 L4.8,7 M3.6,4.6 L3.6,10"/><path transform="translate(5.10,-5)" d="M4.3,0.9 C3.8,0.3 3.1,0 2.4,0 C0.8,0 0,2 0,5 L0,7.2 C0,8.9 0.9,10 2.25,10 C3.6,10 4.5,8.9 4.5,7.3 C4.5,5.7 3.6,4.6 2.25,4.6 C0.9,4.6 0,5.7 0,7.3"/></g>
<g transform="translate(1012.5,564) rotate(-90) scale(1.600) skewX(-15)" stroke="#1a1a1a" stroke-width="0.750" fill="none" stroke-linecap="round" stroke-linejoin="round"><path transform="translate(-9.60,-5)" d="M1,2.2 L3.6,0 L3.6,10"/><path transform="translate(-2.25,-5)" d="M0.2,9.1 C0.7,9.7 1.4,10 2.1,10 C3.7,10 4.5,8 4.5,5 L4.5,2.8 C4.5,1.1 3.6,0 2.25,0 C0.9,0 0,1.1 0,2.7 C0,4.3 0.9,5.4 2.25,5.4 C3.6,5.4 4.5,4.3 4.5,2.7"/><path transform="translate(5.10,-5)" d="M4.3,0.9 C3.8,0.3 3.1,0 2.4,0 C0.8,0 0,2 0,5 L0,7.2 C0,8.9 0.9,10 2.25,10 C3.6,10 4.5,8.9 4.5,7.3 C4.5,5.7 3.6,4.6 2.25,4.6 C0.9,4.6 0,5.7 0,7.3"/></g>
<g transform="translate(1039,652) rotate(-90) scale(1.700) skewX(-15)" stroke="#1a1a1a" stroke-width="0.706" fill="none" stroke-linecap="round" stroke-linejoin="round"><path transform="translate(-9.60,-5)" d="M0.2,2.3 C0.5,0.8 1.3,0 2.4,0 C3.7,0 4.5,1 4.5,2.4 C4.5,3.7 3.8,4.7 2.8,5.7 L0,10 L4.6,10"/><path transform="translate(-2.25,-5)" d="M4.4,0 L0.9,0 L0.4,4.3 C0.9,3.9 1.6,3.7 2.3,3.7 C3.7,3.7 4.5,4.9 4.5,6.8 C4.5,8.8 3.6,10 2.2,10 C1.2,10 0.4,9.4 0,8.6"/><path transform="translate(5.10,-5)" d="M2.25,0 C0.6,0 0,1.5 0,3.5 L0,6.5 C0,8.5 0.6,10 2.25,10 C3.9,10 4.5,8.5 4.5,6.5 L4.5,3.5 C4.5,1.5 3.9,0 2.25,0 Z"/></g>
<g transform="translate(823.5,741) rotate(-9) scale(1.700) skewX(-15)" stroke="#1a1a1a" stroke-width="0.706" fill="none" stroke-linecap="round" stroke-linejoin="round"><path transform="translate(-9.60,-5)" d="M4.3,0.9 C3.8,0.3 3.1,0 2.4,0 C0.8,0 0,2 0,5 L0,7.2 C0,8.9 0.9,10 2.25,10 C3.6,10 4.5,8.9 4.5,7.3 C4.5,5.7 3.6,4.6 2.25,4.6 C0.9,4.6 0,5.7 0,7.3"/><path transform="translate(-2.25,-5)" d="M2.25,0 C0.6,0 0,1.5 0,3.5 L0,6.5 C0,8.5 0.6,10 2.25,10 C3.9,10 4.5,8.5 4.5,6.5 L4.5,3.5 C4.5,1.5 3.9,0 2.25,0 Z"/><path transform="translate(5.10,-5)" d="M2.25,0 C0.6,0 0,1.5 0,3.5 L0,6.5 C0,8.5 0.6,10 2.25,10 C3.9,10 4.5,8.5 4.5,6.5 L4.5,3.5 C4.5,1.5 3.9,0 2.25,0 Z"/></g>
</svg>
</body></html>
